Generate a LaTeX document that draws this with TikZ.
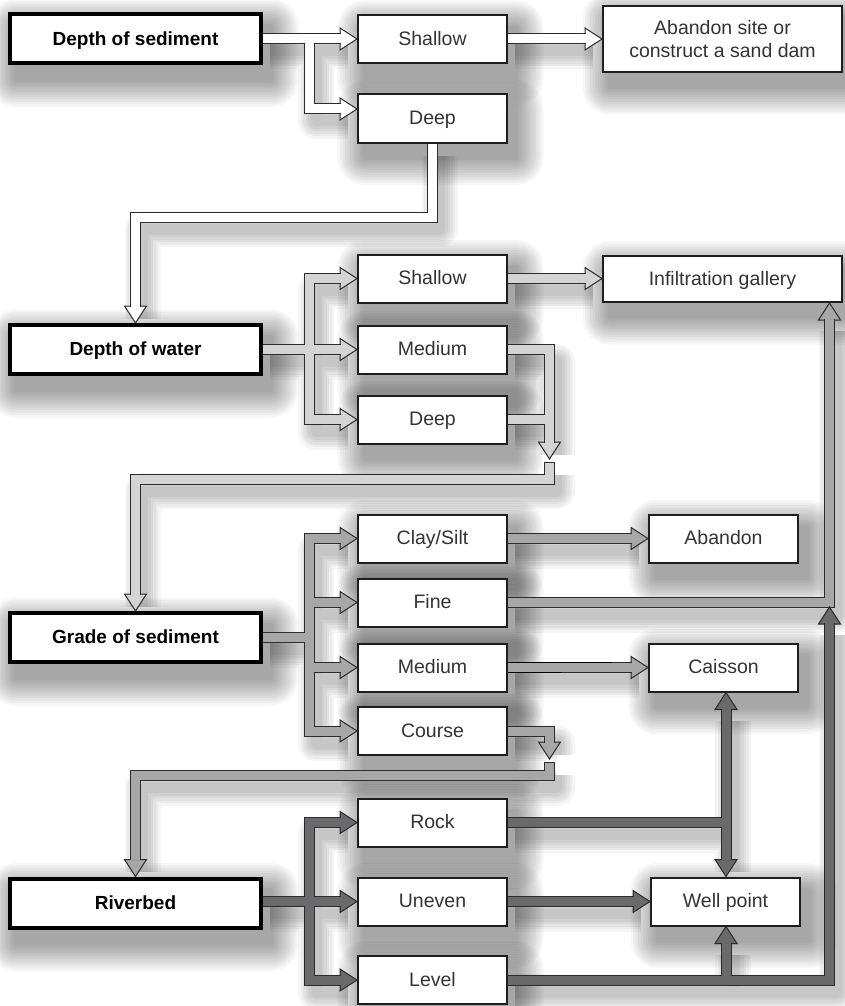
\documentclass[tikz,border=0pt]{standalone}
\usepackage{fontspec}
\setmainfont{Liberation Sans}
\usetikzlibrary{calc}
\definecolor{oc}{HTML}{2B2B2B}
\definecolor{bc}{HTML}{1E1E1E}
\definecolor{tc}{HTML}{333333}
\definecolor{cA}{HTML}{FFFFFF}
\definecolor{cB}{HTML}{D4D4D4}
\definecolor{cC}{HTML}{A7A7A7}
\definecolor{cD}{HTML}{6A6A6D}
\pgfdeclarelayer{bg}
\pgfdeclarelayer{conn}
\pgfsetlayers{bg,conn,main}
\newcommand\hR[2]{\filldraw[fill=#2,draw=oc,line width=1pt,line join=miter] (#1) -- ++(-17,-11) -- ++(0,22) -- cycle;}
\newcommand\hD[2]{\filldraw[fill=#2,draw=oc,line width=1pt,line join=miter] (#1) -- ++(-11,-17) -- ++(22,0) -- cycle;}
\newcommand\hU[2]{\filldraw[fill=#2,draw=oc,line width=1pt,line join=miter] (#1) -- ++(-11,17) -- ++(22,0) -- cycle;}
\newcommand\nshadow[1]{\foreach \k in {1,...,11}{\pgfmathsetmacro\ee{\k*2.5}\fill[black,opacity=0.037,rounded corners=\ee pt] ($(#1.south west)+(8-\ee,14+\ee)$) rectangle ($(#1.north east)+(8+\ee,14-\ee)$);}}
\def\Pone{(ds.east) -- ($(t1)+(-16.4,0)$) (b |- ds.east) -- (b |- t2) -- ($(t2)+(-16.4,0)$) (sh1.east) -- ($(t3)+(-16.4,0)$) (de1.south) -- (de1.south |- y217) -- (dw.north |- y217) -- ($(t4)+(0,-16.4)$) }
\def\Ptwo{(dw.east |- me2.west) -- ($(t6)+(-16.4,0)$) ($(t5)+(-16.4,0)$) -- (b |- t5) -- (b |- t7) -- ($(t7)+(-16.4,0)$) (sh2.east) -- ($(t8)+(-16.4,0)$) (me2.east) -- (mx |- me2.east) -- ($(d1)+(0,-16.4)$) (de2.east) -- (mx |- de2.east) (s1) -- (mx |- y479) -- (gs.north |- y479) -- ($(t9)+(0,-16.4)$) }
\def\Pthree{(gs.east) -- (b |- gs.east) ($(tcs)+(-16.4,0)$) -- (b |- tcs) -- (b |- tco) -- ($(tco)+(-16.4,0)$) (b |- tfi) -- ($(tfi)+(-16.4,0)$) (b |- tme3) -- ($(tme3)+(-16.4,0)$) (cs.east) -- ($(tab2)+(-16.4,0)$) (fi.east) -- (fx |- fi.east) -- ($(tigs)+(0,16.4)$) (me3.east) -- ($(tca)+(-16.4,0)$) (co.east) -- (mx |- co.east) -- ($(d2)+(0,-16.4)$) (s2) -- (mx |- y775) -- (rb.north |- y775) -- ($(trb)+(0,-16.4)$) }
\def\Pfour{(rb.east |- un.west) -- ($(tun)+(-16.4,0)$) ($(tro)+(-16.4,0)$) -- (b |- tro) -- (b |- tle) -- ($(tle)+(-16.4,0)$) (ro.east) -- (vx |- ro.east) ($(tcas)+(0,16.4)$) -- ($(twpn)+(0,-16.4)$) (un.east) -- ($(twp)+(-16.4,0)$) (le.east) -- (fx |- le.east) -- ($(tfl)+(0,16.4)$) (vx |- le.east) -- ($(twps)+(0,16.4)$) }
\begin{document}
\begin{tikzpicture}[x=1pt,y=-1pt,
  mainbox/.style={draw=black,line width=4pt,fill=white,minimum width=251pt,minimum height=49pt,inner sep=0pt,font=\fontsize{19}{22}\selectfont\bfseries,text=black,text height=13.6pt,text depth=1pt},
  bx/.style={draw=bc,line width=2pt,fill=white,minimum width=149pt,minimum height=48pt,inner sep=0pt,font=\fontsize{19.5}{23}\selectfont,text=tc},
  box/.style={bx,text height=13.6pt,text depth=1pt},
  shaft/.style={draw=#1,line width=9pt,line join=miter,line cap=butt,preaction={draw=oc,line width=11pt,line join=miter}}]
\useasboundingbox (0,0) rectangle (845,1006);
% nodes
\node[mainbox] (ds) at (135.5,39) {Depth of sediment};
\node[mainbox] (dw) at (135.5,349.5) {Depth of water};
\node[mainbox] (gs) at (135.5,637.5) {Grade of sediment};
\node[mainbox] (rb) at (135.5,903) {Riverbed};
\node[box] (sh1) at (432.5,39) {Shallow};
\node[box] (de1) at (432.5,118.5) {Deep};
\node[box] (sh2) at (432.5,278.5) {Shallow};
\node[box] (me2) at (432.5,349.5) {Medium};
\node[box] (de2) at (432.5,419.5) {Deep};
\node[box] (cs) at (432.5,538.5) {Clay/Silt};
\node[box] (fi) at (432.5,602.5) {Fine};
\node[box] (me3) at (432.5,667.5) {Medium};
\node[box] (co) at (432.5,731) {Course};
\node[box] (ro) at (432.5,822.5) {Rock};
\node[box] (un) at (432.5,901.5) {Uneven};
\node[box] (le) at (432.5,980) {Level};
\node[bx,minimum width=239pt,minimum height=66pt,align=center] (ab1) at (722.5,39) {Abandon site or\\construct a sand dam};
\node[box,minimum width=239pt,minimum height=46pt] (ig) at (722.5,279) {Infiltration gallery};
\node[box] (ab2) at (723.5,538.5) {Abandon};
\node[box] (ca) at (723.5,667.5) {Caisson};
\node[box] (wp) at (725.5,901.5) {Well point};
% helper coordinates
\coordinate (b) at (309,0);
\coordinate (mx) at (549.5,0);
\coordinate (fx) at (829.5,0);
\coordinate (vx) at (726,0);
\coordinate (y217) at (0,217);
\coordinate (y479) at (0,479);
\coordinate (y775) at (0,775.5);
\coordinate (s1) at (549.5,463);
\coordinate (s2) at (549.5,763);
\coordinate (d1) at (549.5,459);
\coordinate (d2) at (549.5,759);
\coordinate (t1) at (sh1.west);
\coordinate (t2) at ($(de1.west)+(0,-9.5)$);
\coordinate (t3) at (ab1.west |- sh1.east);
\coordinate (t4) at (dw.north);
\coordinate (t5) at (sh2.west);
\coordinate (t6) at (me2.west);
\coordinate (t7) at (de2.west);
\coordinate (t8) at (ig.west |- sh2.east);
\coordinate (t9) at (gs.north);
\coordinate (tcs) at (cs.west);
\coordinate (tfi) at (fi.west);
\coordinate (tme3) at (me3.west);
\coordinate (tco) at (co.west);
\coordinate (tab2) at (ab2.west |- cs.east);
\coordinate (tigs) at (fx |- ig.south);
\coordinate (tca) at (ca.west |- me3.east);
\coordinate (trb) at (rb.north);
\coordinate (tro) at (ro.west);
\coordinate (tun) at (un.west);
\coordinate (tle) at (le.west);
\coordinate (tcas) at (vx |- ca.south);
\coordinate (twpn) at (vx |- wp.north);
\coordinate (twp) at (wp.west |- un.east);
\coordinate (tfl) at ($(fx |- fi.east)+(0,4.5)$);
\coordinate (twps) at (vx |- wp.south);
% shadows
\begin{pgfonlayer}{bg}
\fill[white] (0,0) rectangle (845,1006);
\foreach \n in {ds,dw,gs,rb,sh1,de1,sh2,me2,de2,cs,fi,me3,co,ro,un,le,ab1,ig,ab2,ca,wp} {\nshadow{\n}}
\begin{scope}[transform canvas={shift={(7,12)}}]
\foreach \w in {11,16,21,26,31,36} {\draw[black,opacity=0.04,line width=\w pt,line join=round] \Pone \Ptwo \Pthree \Pfour;}
\end{scope}
\end{pgfonlayer}
% connectors
\begin{pgfonlayer}{conn}
\hR{t1}{cA}\hR{t2}{cA}\hR{t3}{cA}\hD{t4}{cA}
\draw[shaft=cA] \Pone;
\hR{t5}{cB}\hR{t6}{cB}\hR{t7}{cB}\hR{t8}{cB}\hD{d1}{cB}\hD{t9}{cB}
\draw[shaft=cB] \Ptwo;
\draw[oc,line width=1pt] ($(s1)+(-5.5,-0.5)$) -- ++(11,0);
\hR{tcs}{cC}\hR{tfi}{cC}\hR{tme3}{cC}\hR{tco}{cC}\hR{tab2}{cC}\hU{tigs}{cC}\hR{tca}{cC}\hD{d2}{cC}\hD{trb}{cC}
\draw[shaft=cC] \Pthree;
\draw[oc,line width=1pt] ($(s2)+(-5.5,-0.5)$) -- ++(11,0);
\draw[black,line width=1.6pt] ($(me3.east)+(0,-5)$) -- ++(104,0);
\draw[black,line width=1.6pt] ($(me3.east)+(0,5)$) -- ++(54,0);
\hR{tro}{cD}\hR{tun}{cD}\hR{tle}{cD}\hU{tcas}{cD}\hD{twpn}{cD}\hR{twp}{cD}\hU{tfl}{cD}\hU{twps}{cD}
\draw[shaft=cD] \Pfour;
\end{pgfonlayer}
\end{tikzpicture}
\end{document}
